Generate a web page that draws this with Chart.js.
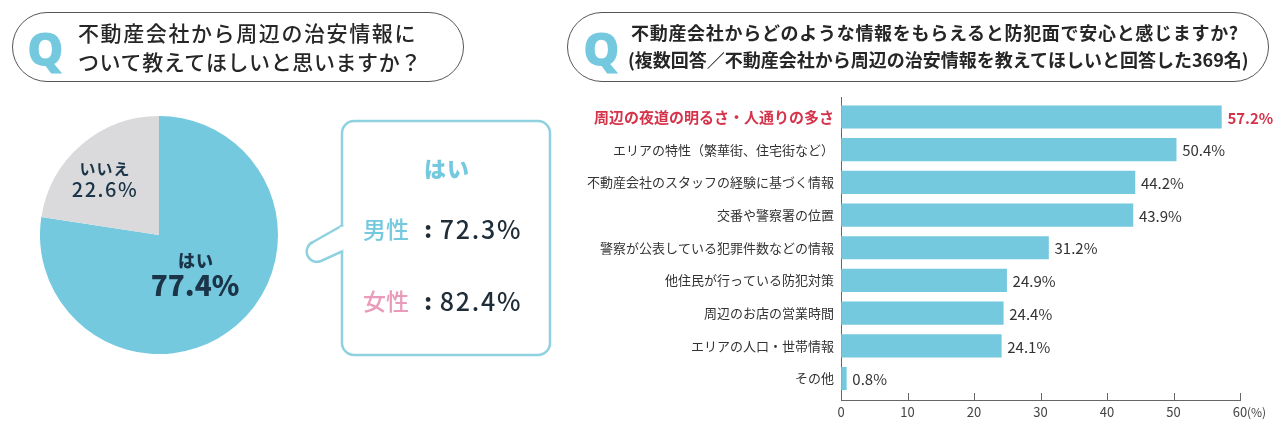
<!DOCTYPE html>
<html lang="ja">
<head>
<meta charset="utf-8">
<script src="https://cdn.jsdelivr.net/npm/chart.js@4/dist/chart.umd.min.js"></script>
<style>
  html, body { margin:0; padding:0; background:#fff; }
  body { width:1280px; height:430px; position:relative; overflow:hidden;
         font-family:"Noto Sans CJK JP","Noto Sans",sans-serif; color:#2a2a2a; }
  .abs { position:absolute; white-space:nowrap; }
  .pill { position:absolute; border:1.5px solid #555; border-radius:36px; box-sizing:border-box; }
  .q { position:absolute; font-family:"Noto Sans","Noto Sans CJK JP",sans-serif; font-weight:900; color:#74C9DF; font-size:46px; line-height:1; }
  .t1 { font-size:21px; font-weight:500; line-height:29px; letter-spacing:0.6px; color:#262626; }
  .t2 { font-size:18px; font-weight:600; line-height:27px; color:#262626; }
  #barCanvas { position:absolute; left:0; top:0; }
  #pieWrap { position:absolute; left:40px; top:116px; width:238px; height:238px; }
  .pl { position:absolute; transform:translate(-50%,-50%); white-space:nowrap; color:#1c3447; line-height:1; }
</style>
</head>
<body>
<canvas id="barCanvas" width="1280" height="430"></canvas>

<div class="pill" style="left:12px;top:12px;width:452px;height:70px;"></div>
<div class="q" style="left:27px;top:25px;">Q</div>
<div class="abs t1" style="left:78px;top:18px;"><span style="letter-spacing:1.6px">不動産会社から周辺の治安情報に</span><br>ついて教えてほしいと思いますか？</div>

<div class="pill" style="left:567px;top:12px;width:702px;height:70px;"></div>
<div class="q" style="left:583px;top:25px;">Q</div>
<div class="abs t2" style="left:631px;top:19px;"><span style="letter-spacing:0.7px">不動産会社からどのような情報をもらえると防犯面で安心と感じますか?</span><br><span style="margin-left:-3px">(</span>複数回答／不動産会社から周辺の治安情報を教えてほしいと回答した369名)</div>

<div id="pieWrap"><canvas id="pieCanvas" width="238" height="238"></canvas></div>
<div id="pieText"></div>

<svg class="abs" style="left:0;top:0;" width="1280" height="430">
  <rect x="342" y="121" width="208" height="234" rx="12" ry="12" fill="#fff" stroke="#8FD1DF" stroke-width="2.5"/>
  <path d="M 343 225 L 313 242 A 9 9 0 0 0 321 261 L 343 251" fill="#fff" stroke="#8FD1DF" stroke-width="2.5" stroke-linejoin="round"/>
  <line x1="342" y1="227" x2="342" y2="249" stroke="#fff" stroke-width="4"/>
</svg>
<div id="calloutText"></div>

<script>
// ---- data ----
const pieLabels = ['はい', 'いいえ'];
const pieValues = [77.4, 22.6];
const genderLabels = ['男性', '女性'];
const genderValues = [72.3, 82.4];
const barLabels = [
  '周辺の夜道の明るさ・人通りの多さ',
  'エリアの特性（繁華街、住宅街など）',
  '不動産会社のスタッフの経験に基づく情報',
  '交番や警察署の位置',
  '警察が公表している犯罪件数などの情報',
  '他住民が行っている防犯対策',
  '周辺のお店の営業時間',
  'エリアの人口・世帯情報',
  'その他'
];
const barValues = [57.2, 50.4, 44.2, 43.9, 31.2, 24.9, 24.4, 24.1, 0.8];
const xTicks = [0, 10, 20, 30, 40, 50, 60];
const xUnit = '(%)';

const FONT = '"Noto Sans CJK JP","Noto Sans",sans-serif';
const BLUE = '#74C9DF';
const GRAY = '#DADADC';
const RED = '#D5334A';
const PINK = '#E99BB9';

// ---- pie text overlays ----
const pt = document.getElementById('pieText');
pt.innerHTML =
  `<div class="pl" style="left:105px;top:168px;font-size:16px;font-weight:700;letter-spacing:1px;">${pieLabels[1]}</div>` +
  `<div class="pl" style="left:105px;top:189px;font-size:20px;font-weight:500;letter-spacing:1.5px;">${pieValues[1].toFixed(1)}%</div>` +
  `<div class="pl" style="left:196px;top:259px;font-size:17px;font-weight:900;letter-spacing:1px;">${pieLabels[0]}</div>` +
  `<div class="pl" style="left:195px;top:284px;font-size:28px;font-weight:900;">${pieValues[0].toFixed(1)}%</div>`;

// ---- callout text ----
const ct = document.getElementById('calloutText');
const gColors = [BLUE, PINK];
const gY = [228, 300];
let html = `<div class="pl" style="left:447px;top:167px;font-size:22px;font-weight:900;color:${BLUE};letter-spacing:1px;">${pieLabels[0]}</div>`;
genderLabels.forEach((g, i) => {
  html += `<div class="pl" style="left:386px;top:${gY[i]}px;font-size:23px;font-weight:500;color:${gColors[i]};">${g}</div>`;
  html += `<div class="pl" style="left:428px;top:${gY[i]}px;font-size:22px;font-weight:900;color:#1f2d38;">:</div>`;
  html += `<div class="pl" style="left:481px;top:${gY[i]}px;font-size:25px;font-weight:500;color:#1f2d38;letter-spacing:1.8px;">${genderValues[i].toFixed(1)}%</div>`;
});
ct.innerHTML = html;

// ---- pie chart ----
new Chart(document.getElementById('pieCanvas'), {
  type: 'pie',
  data: { labels: pieLabels, datasets: [{ data: pieValues, backgroundColor: [BLUE, GRAY], borderWidth: 0 }] },
  options: {
    responsive: false, animation: false,
    layout: { padding: 0 },
    plugins: { legend: { display: false }, tooltip: { enabled: false } }
  }
});

// ---- bar chart ----
const decor = {
  id: 'decor',
  afterDatasetsDraw(chart) {
    const ctx = chart.ctx;
    const meta = chart.getDatasetMeta(0);
    ctx.save();
    ctx.textBaseline = 'middle';
    ctx.textAlign = 'left';
    meta.data.forEach((bar, i) => {
      ctx.fillStyle = i === 0 ? RED : '#333';
      ctx.font = (i === 0 ? '700 ' : '400 ') + '15px ' + FONT;
      ctx.fillText(barValues[i].toFixed(1) + '%', bar.x + 6, bar.y + 1);
    });
    ctx.restore();
  },
  afterDraw(chart) {
    const ctx = chart.ctx;
    const xs = chart.scales.x;
    const y0 = chart.chartArea.bottom;
    ctx.save();
    ctx.strokeStyle = '#666';
    ctx.lineWidth = 1;
    xTicks.forEach(v => {
      if (v === 0) return;
      const px = Math.round(xs.getPixelForValue(v)) + 0.5;
      ctx.beginPath(); ctx.moveTo(px, y0); ctx.lineTo(px, y0 - 7); ctx.stroke();
    });
    ctx.fillStyle = '#444';
    ctx.font = '12px ' + FONT;
    ctx.textAlign = 'left';
    ctx.textBaseline = 'middle';
    ctx.fillText(xUnit, xs.getPixelForValue(xTicks[xTicks.length - 1]) + 7, y0 + 12);
    ctx.restore();
  }
};

new Chart(document.getElementById('barCanvas'), {
  type: 'bar',
  data: {
    datasets: [{
      data: barValues.map((v, i) => ({ x: v, y: i })),
      backgroundColor: BLUE,
      borderWidth: 0,
      barThickness: 22.5
    }]
  },
  options: {
    indexAxis: 'y',
    responsive: false, animation: false,
    layout: { padding: { top: 97, right: 40, left: 0, bottom: 0 } },
    plugins: { legend: { display: false }, tooltip: { enabled: false } },
    scales: {
      x: {
        type: 'linear', min: xTicks[0], max: xTicks[xTicks.length - 1], offset: false,
        afterBuildTicks: s => { s.ticks = xTicks.map(v => ({ value: v })); },
        afterFit: s => { s.height = 30; },
        grid: { drawOnChartArea: false, drawTicks: false, offset: false },
        border: { display: true, color: '#666', width: 1 },
        ticks: { padding: 4, color: '#444', font: { size: 13, family: FONT }, maxRotation: 0, autoSkip: false }
      },
      y: {
        type: 'linear', reverse: true, min: -0.612, max: 8.657, offset: false, bounds: 'data',
        afterBuildTicks: s => { s.ticks = barLabels.map((_, i) => ({ value: i })); },
        afterFit: s => { s.width = 841; },
        grid: { drawOnChartArea: false, drawTicks: false, offset: false },
        border: { display: true, color: '#666', width: 1 },
        ticks: {
          padding: 7, autoSkip: false,
          callback: v => barLabels[v],
          color: c => (c.index === 0 ? RED : '#333'),
          font: c => (c.index === 0 ? { size: 15, weight: '700', family: FONT } : { size: 13, weight: '400', family: FONT })
        }
      }
    }
  },
  plugins: [decor]
});
</script>
</body>
</html>
